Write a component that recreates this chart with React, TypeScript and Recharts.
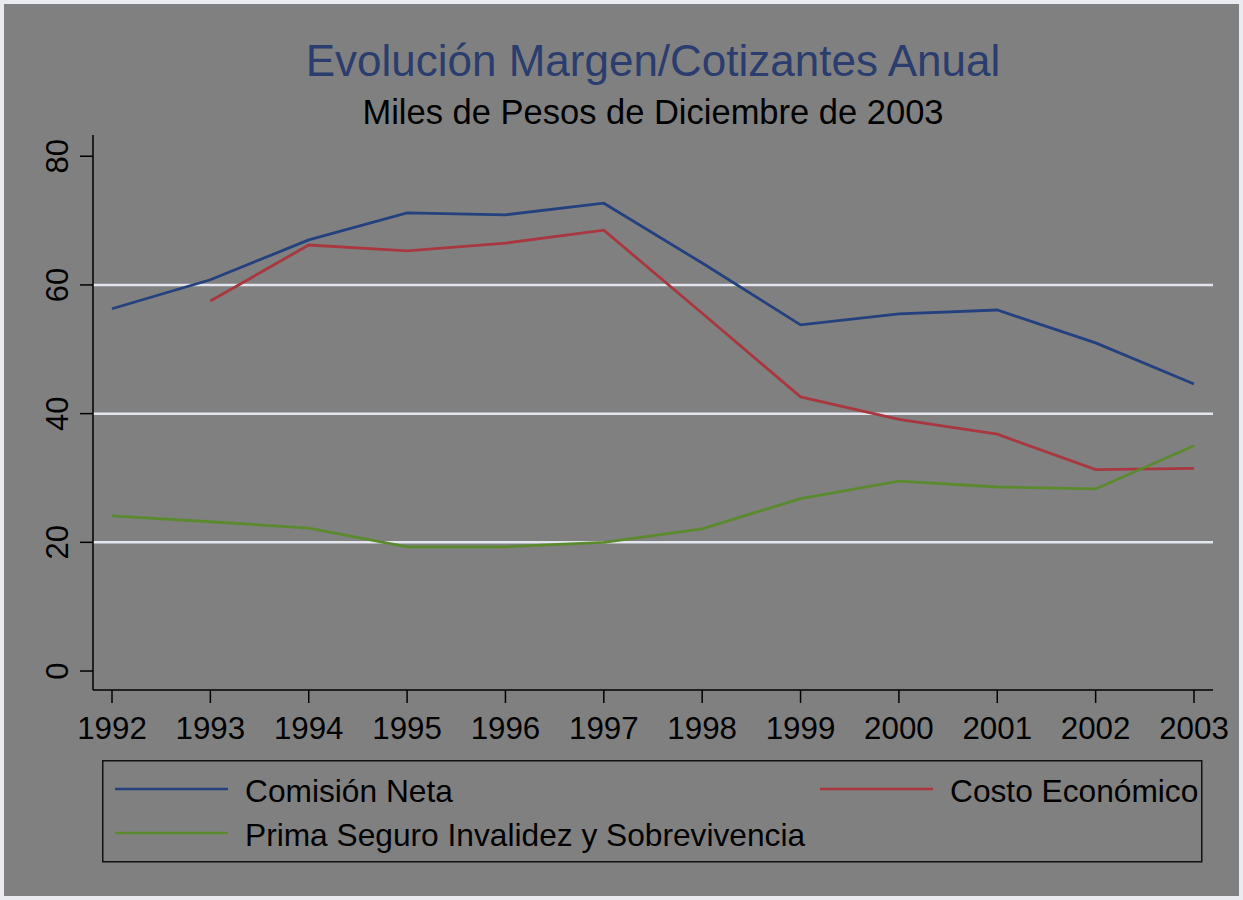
import {
  LineChart,
  Line,
  XAxis,
  YAxis,
  ReferenceLine,
  Legend,
} from "recharts";

const FONT = "'Liberation Sans', Arial, sans-serif";

// Values
const years = [
  "1992", "1993", "1994", "1995", "1996", "1997",
  "1998", "1999", "2000", "2001", "2002", "2003",
];
const comisionNeta = [56.3, 60.8, 67.0, 71.2, 70.9, 72.7, 63.4, 53.8, 55.5, 56.1, 51.0, 44.6];
const costoEconomico = [null, 57.5, 66.2, 65.3, 66.5, 68.5, 55.6, 42.6, 39.1, 36.8, 31.3, 31.5];
const primaSeguro = [24.1, 23.2, 22.2, 19.3, 19.3, 20.0, 22.1, 26.8, 29.5, 28.6, 28.3, 35.0];

const yTicks = [0, 20, 40, 60, 80];
const gridValues = [20, 40, 60];

const seriesNames = [
  "Comisión Neta",
  "Costo Económico",
  "Prima Seguro Invalidez y Sobrevivencia",
];
const seriesColors = ["#24407e", "#a8373f", "#5b8a2e"];

const data = years.map((year, i) => ({
  year,
  comision: comisionNeta[i],
  costo: costoEconomico[i],
  prima: primaSeguro[i],
}));

// legend slots: [lineX, textX, rowY] inside the legend box
const legendSlots = [
  [13, 143, 0],
  [718, 848, 0],
  [13, 143, 1],
];

function YTick(props: any) {
  const { x, y, payload } = props;
  return (
    <text
      x={x}
      y={y}
      transform={`rotate(-90, ${x}, ${y})`}
      textAnchor="middle"
      fontSize={31}
      fontFamily={FONT}
      fill="#000"
    >
      {payload.value}
    </text>
  );
}

function renderLegend(props: any) {
  const payload = props.payload || [];
  return (
    <svg width={1101} height={103} style={{ display: "block" }}>
      <rect x={0.75} y={0.75} width={1099} height={101} fill="none" stroke="#111" strokeWidth={1.5} />
      {payload.map((entry: any, i: number) => {
        const [lx, tx, row] = legendSlots[i];
        const ly = 29 + row * 44;
        return (
          <g key={entry.value}>
            <line x1={lx} x2={lx + 113} y1={ly} y2={ly} stroke={entry.color} strokeWidth={2.5} />
            <text x={tx} y={ly + 13} fontSize={31.7} fontFamily={FONT} fill="#000">
              {entry.value}
            </text>
          </g>
        );
      })}
    </svg>
  );
}

export default function App() {
  return (
    <div
      style={{
        position: "absolute",
        left: 0,
        top: 0,
        width: 1243,
        height: 900,
        background: "#808080",
        boxShadow: "inset 0 0 0 4px #e9ebf0",
        overflow: "hidden",
      }}
    >
      <svg
        width={1243}
        height={140}
        style={{ position: "absolute", left: 0, top: 0 }}
      >
        <text x={653} y={76} textAnchor="middle" fontSize={44} fontFamily={FONT} fill="#2b3d6e">
          Evolución Margen/Cotizantes Anual
        </text>
        <text x={653} y={124} textAnchor="middle" fontSize={34.5} fontFamily={FONT} fill="#000">
          Miles de Pesos de Diciembre de 2003
        </text>
      </svg>
      <LineChart
        width={1243}
        height={900}
        data={data}
        margin={{ top: 135, right: 30, left: 0, bottom: 150 }}
        style={{ position: "absolute", left: 0, top: 0 }}
      >
        <XAxis
          dataKey="year"
          interval={0}
          padding={{ left: 19, right: 19 }}
          height={60}
          tickSize={13}
          tickMargin={14}
          axisLine={{ stroke: "#000", strokeWidth: 1.5 }}
          tickLine={{ stroke: "#000", strokeWidth: 1.5 }}
          tick={{ fill: "#000", fontSize: 31.3, fontFamily: FONT }}
        />
        <XAxis
          xAxisId="top"
          dataKey="year"
          orientation="top"
          height={0}
          tick={false}
          tickLine={false}
          axisLine={{ stroke: "#fff", strokeWidth: 2 }}
        />
        <YAxis
          type="number"
          domain={[-2.95, 83.3]}
          allowDataOverflow
          ticks={yTicks}
          width={93}
          tickSize={13}
          tickMargin={12}
          axisLine={{ stroke: "#000", strokeWidth: 1.5 }}
          tickLine={{ stroke: "#000", strokeWidth: 1.5 }}
          tick={<YTick />}
        />
        <YAxis
          yAxisId="right"
          orientation="right"
          width={0}
          tick={false}
          tickLine={false}
          axisLine={{ stroke: "#fff", strokeWidth: 2 }}
        />
        {gridValues.map((v) => (
          <ReferenceLine key={v} y={v} stroke="#e2e4ee" strokeWidth={2.5} />
        ))}
        <Legend
          layout="horizontal"
          verticalAlign="middle"
          content={renderLegend}
          wrapperStyle={{ left: 102, top: 760, width: 1101, height: 103 }}
        />
        <Line
          dataKey="comision"
          name={seriesNames[0]}
          stroke={seriesColors[0]}
          strokeWidth={2.8}
          dot={false}
          isAnimationActive={false}
        />
        <Line
          dataKey="costo"
          name={seriesNames[1]}
          stroke={seriesColors[1]}
          strokeWidth={2.8}
          dot={false}
          isAnimationActive={false}
        />
        <Line
          dataKey="prima"
          name={seriesNames[2]}
          stroke={seriesColors[2]}
          strokeWidth={2.8}
          dot={false}
          isAnimationActive={false}
        />
      </LineChart>
    </div>
  );
}
